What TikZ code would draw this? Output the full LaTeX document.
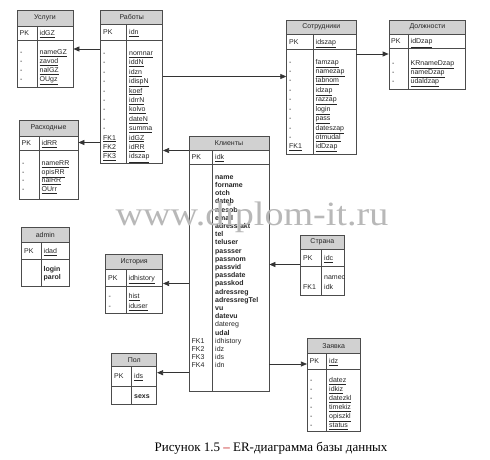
\documentclass[tikz,border=0pt]{standalone}
\usepackage{fontspec}
\setmainfont{Liberation Sans}
\newfontfamily\capfont{Liberation Serif}
\usetikzlibrary{arrows.meta,fit}
\tikzset{
  frame/.style={draw=black!70, line width=0.7pt},
  hdr/.style={fill=black!18},
  txt/.style={font=\fontsize{7}{8}\selectfont, inner sep=0pt, anchor=base west, text=black!85},
  ttl/.style={font=\fontsize{7}{8}\selectfont, inner sep=0pt, text=black!85},
  conn/.style={draw=black!80, line width=0.7pt, -{Triangle[length=6pt,width=5pt]}}
}
% name, x1, y1, x2, y2, header bottom, pk bottom, divider x, title
\newcommand\ent[9]{%
  \fill[hdr] (#2,#3) rectangle (#4,#6);
  \node[frame, inner sep=0pt, fit={(#2,#3)(#4,#5)}] (#1) {};
  \draw[frame] (#2,#6) -- (#4,#6);
  \draw[frame, line width=1pt] (#2,#7) -- (#4,#7);
  \draw[frame] (#8,#6) -- (#8,#5);
  \node[ttl] (#1-t) at ({(#2+#4)/2},{(#3+#6)/2}) {#9};
}
\begin{document}
\begin{tikzpicture}[x=1pt,y=-1pt]
\useasboundingbox (0,0) rectangle (490,460);
\fill[white] (0,0) rectangle (490,460);

% ---------------- Услуги
\ent{usl}{17}{10}{73}{87}{26}{41}{37}{Услуги}
\node[txt] at (19.5,36) {PK};
\node[txt] at (39.5,36) {\underline{idGZ}};
\foreach \r [count=\i from 0] in {nameGZ,zavod,nalGZ,OUgz}{
  \node[txt] at (20,54.5+\i*9) {-};
  \node[txt] at (39.5,54.5+\i*9) {\underline{\r}};
}

% ---------------- Работы
\ent{rab}{100.7}{10}{162.7}{163}{24}{41}{126.7}{Работы}
\node[txt] at (103,35) {PK};
\node[txt] at (129,35) {\underline{idn}};
\foreach \l/\r [count=\i from 0] in {-/nomnar,-/iddN,-/idzn,-/idispN,-/koef,-/idrrN,-/kolvo,-/dateN,-/summa,\underline{FK1}/idGZ,\underline{FK2}/idRR,\underline{FK3}/idszap}{
  \node[txt] at (103,55.5+\i*9.4) {\l};
  \node[txt] at (129,55.5+\i*9.4) {\underline{\r}};
}

% ---------------- Сотрудники
\ent{sot}{286.7}{20}{356}{154}{34}{50}{313}{Сотрудники}
\node[txt] at (289,44.5) {PK};
\node[txt] at (315.5,44.5) {\underline{idszap}};
\foreach \l/\r [count=\i from 0] in {-/famzap,-/namezap,-/tabnom,-/idzap,-/razzap,-/login,-/pass,-/dateszap,-/otmudal,\underline{FK1}/idDzap}{
  \node[txt] at (289,64.2+\i*9.4) {\l};
  \node[txt] at (315.5,64.2+\i*9.4) {\underline{\r}};
}

% ---------------- Должности
\ent{dol}{389}{20}{465.7}{89}{34}{49}{408}{Должности}
\node[txt] at (391,44) {PK};
\node[txt] at (410.5,44) {\underline{idDzap}};
\foreach \r [count=\i from 0] in {KRnameDzap,nameDzap,udaldzap}{
  \node[txt] at (392,65.5+\i*9) {-};
  \node[txt] at (410.5,65.5+\i*9) {\underline{\r}};
}

% ---------------- Расходные
\ent{ras}{19}{120}{78}{199}{136}{150}{39}{Расходные}
\node[txt] at (21.5,145.5) {PK};
\node[txt] at (41.5,145.5) {\underline{idRR}};
\foreach \r [count=\i from 0] in {nameRR,opisRR,nalRR,OUrr}{
  \node[txt] at (22,165.5+\i*8.7) {-};
  \node[txt] at (41.5,165.5+\i*8.7) {\underline{\r}};
}

% ---------------- Клиенты
\ent{kl}{189}{136}{269}{391}{150}{164}{212.7}{Клиенты}
\node[txt] at (191.5,159.5) {PK};
\node[txt] at (215,159.5) {\underline{idk}};
\foreach \r [count=\i from 0] in {name,forname,otch,dateb,mesob,email,adressfakt,tel,teluser,passser,passnom,passvid,passdate,passkod,adressreg,adressregTel,vu,datevu}{
  \node[txt, font=\fontsize{7}{8}\selectfont\bfseries] at (215,179.2+\i*8.2) {\r};
}
\node[txt] at (215,179.2+18*8.2) {datereg};
\node[txt, font=\fontsize{7}{8}\selectfont\bfseries] at (215,179.2+19*8.2) {udal};
\foreach \l/\r [count=\i from 20] in {FK1/idhistory,FK2/idz,FK3/ids,FK4/idn}{
  \node[txt] at (191.5,179.2+\i*8.2) {\l};
  \node[txt] at (215,179.2+\i*8.2) {\r};
}

% ---------------- admin
\ent{adm}{21.7}{227.3}{69}{286.7}{242.3}{259.3}{41}{admin}
\node[txt] at (24,253.3) {PK};
\node[txt] at (43.5,253.3) {\underline{idad}};
\node[txt, font=\fontsize{7}{8}\selectfont\bfseries] at (43.5,271.8) {login};
\node[txt, font=\fontsize{7}{8}\selectfont\bfseries] at (43.5,279.8) {parol};

% ---------------- История
\ent{ist}{105.7}{254}{162.7}{313.3}{269}{286}{126}{История}
\node[txt] at (108,280) {PK};
\node[txt] at (128.5,280) {\underline{idhistory}};
\foreach \r [count=\i from 0] in {hist,iduser}{
  \node[txt] at (108.5,298.5+\i*10) {-};
  \node[txt] at (128.5,298.5+\i*10) {\underline{\r}};
}

% ---------------- Страна
\ent{str}{300.7}{235}{344}{295}{249}{266.7}{321.7}{Страна}
\node[txt] at (303,260.5) {PK};
\node[txt] at (324,260.5) {\underline{idc}};
\node[txt] at (324,279.8) {namec};
\node[txt] at (303,289.2) {FK1};
\node[txt] at (324,289.2) {idk};

% ---------------- Пол
\ent{pol}{111.7}{353.3}{156.7}{404}{366.7}{386}{131.7}{Пол}
\node[txt] at (114,378.8) {PK};
\node[txt] at (134,378.8) {\underline{ids}};
\node[txt, font=\fontsize{7}{8}\selectfont\bfseries] at (134,398.2) {sexs};

% ---------------- Заявка
\ent{zay}{307.3}{338.3}{360}{431.7}{353.3}{369.3}{326.7}{Заявка}
\node[txt] at (309.5,363.8) {PK};
\node[txt] at (329,363.8) {\underline{idz}};
\foreach \r [count=\i from 0] in {datez,idkiz,datezkl,timekiz,opiszkl,status}{
  \node[txt] at (310,382.5+\i*9) {-};
  \node[txt] at (329,382.5+\i*9) {\underline{\r}};
}

% ---------------- connectors
\draw[conn] (rab.west |- 0,49) -- (usl.east |- 0,49);
\draw[conn] (rab.west |- 0,142.5) -- (ras.east |- 0,142.5);
\draw[conn] (rab.east |- 0,76.5) -- (sot.west |- 0,76.5);
\draw[conn] (sot.east |- 0,54) -- (dol.west |- 0,54);
\draw[conn] (kl.west |- 0,150.5) -- (rab.east |- 0,150.5);
\draw[conn] (str.west |- 0,264.5) -- (kl.east |- 0,264.5);
\draw[conn] (kl.west |- 0,283.5) -- (ist.east |- 0,283.5);
\draw[conn] (kl.west |- 0,372.7) -- (pol.east |- 0,372.7);
\draw[conn] (kl.east |- 0,364) -- (zay.west |- 0,364);

% ---------------- watermark
\node[text=black!28, font=\capfont\fontsize{34}{34}\selectfont, xscale=1.12, inner sep=0pt, anchor=base] (wm) at (252,225) {www.diplom-it.ru};

% ---------------- caption
\node[font=\capfont\fontsize{13}{15}\selectfont, inner sep=0pt, anchor=base] (cap) at (271,451) {Рисунок 1.5 {\color{red!75!black}–} ER-диаграмма базы данных};
\end{tikzpicture}
\end{document}
